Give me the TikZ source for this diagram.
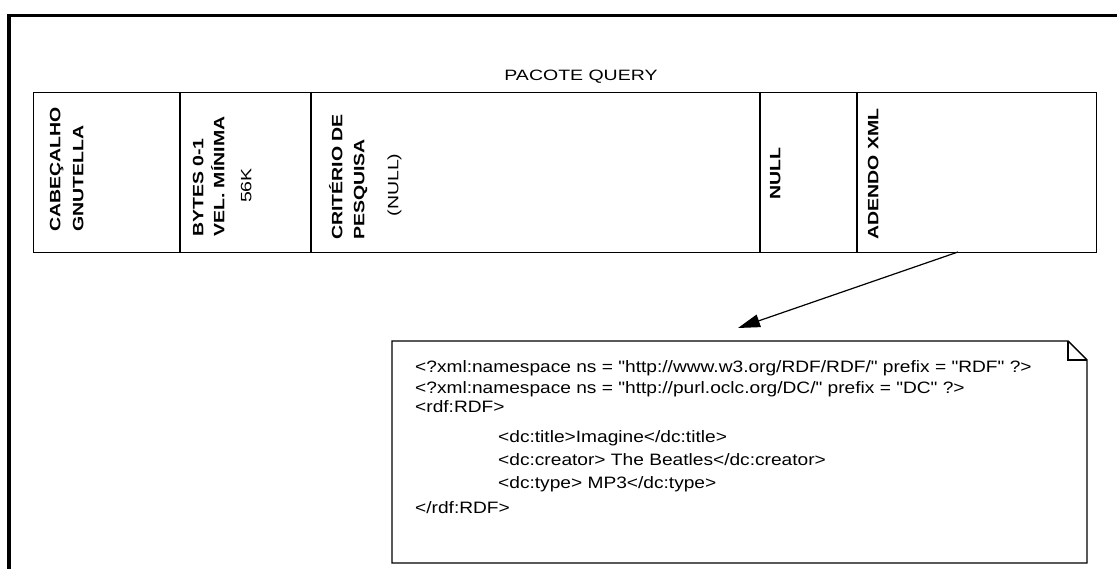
\documentclass[tikz,border=0pt]{standalone}
\usepackage{fontspec}
\setmainfont{Liberation Sans}
\newfontfamily\pixfont[FakeStretch=1.3]{Liberation Sans}
\newfontfamily\notefont[FakeStretch=1.16]{Liberation Sans}
\usetikzlibrary{arrows.meta}

\begin{document}
\begin{tikzpicture}[
    x=1pt, y=-1pt,
    field/.style={rotate=90, anchor=base west, inner sep=0pt, font=\pixfont\bfseries\fontsize{15}{18}\selectfont},
    fieldval/.style={rotate=90, anchor=base, inner sep=0pt, font=\pixfont\fontsize{15}{18}\selectfont},
    xmlline/.style={anchor=base west, inner sep=0pt, font=\notefont\fontsize{16.5}{20}\selectfont},
    pointer/.style={-{Triangle[length=22pt,width=13pt]}, line width=1.2pt}
]
    \useasboundingbox (0,0) rectangle (1117,569);
    \draw[line width=3.5pt] (9,569) -- (9,15.5) -- (1117,15.5);

    \node[anchor=base, inner sep=0pt, font=\pixfont\fontsize{15}{18}\selectfont] (ttl) at (581,81) {PACOTE QUERY};

    \node[draw, line width=1.4pt, anchor=north west, minimum width=1063pt, minimum height=160pt] (packet) at (33,92) {};
    \draw[line width=1.4pt] (180,92) -- (180,252);
    \draw[line width=1.4pt] (311,92) -- (311,252);
    \draw[line width=1.4pt] (760,92) -- (760,252);
    \draw[line width=1.4pt] (857,92) -- (857,252);

    \node[field] (cab1) at (60.4,232) {CABEÇALHO};
    \node[field] (cab2) at (83.4,232) {GNUTELLA};
    \node[field] (vel1) at (203.4,237) {BYTES 0-1};
    \node[field] (vel2) at (224.4,237) {VEL. MÍNIMA};
    \node[fieldval] (velv) at (251.4,185.5) {56K};
    \node[field] (crit1) at (342.4,240) {CRITÉRIO DE};
    \node[field] (crit2) at (364.4,240) {PESQUISA};
    \node[fieldval] (critv) at (398.4,185) {(NULL)};
    \node[field] (nul) at (780.4,200) {NULL};
    \node[field] (xmladd) at (878.4,240) {ADENDO XML};

    \draw[line width=1.4pt] (392,341) -- (1068,341) -- (1087,360) -- (1087,563) -- (392,563) -- cycle;
    \draw[line width=1.4pt] (1068,341) -- (1068,360) -- (1087,360);

    \node[xmlline] (x1) at (415,373) {<?xml:namespace ns = "http://www.w3.org/RDF/RDF/" prefix = "RDF" ?>};
    \node[xmlline] (x2) at (415,393) {<?xml:namespace ns = "http://purl.oclc.org/DC/" prefix = "DC" ?>};
    \node[xmlline] (x3) at (415,413) {<rdf:RDF>};
    \node[xmlline] (x4) at (498,442) {<dc:title>Imagine</dc:title>};
    \node[xmlline] (x5) at (498,465) {<dc:creator> The Beatles</dc:creator>};
    \node[xmlline] (x6) at (498,488) {<dc:type> MP3</dc:type>};
    \node[xmlline] (x7) at (415,513) {</rdf:RDF>};

    \coordinate (xmlsrc) at (958,252);
    \coordinate (xmltip) at (738,328);
    \draw[pointer] (xmlsrc) -- (xmltip);
\end{tikzpicture}
\end{document}
